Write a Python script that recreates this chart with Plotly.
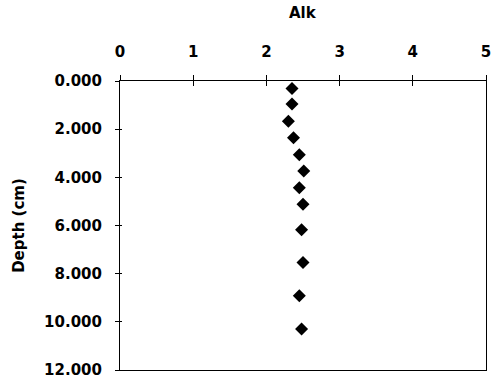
import plotly.graph_objects as go

# Alkalinity profile with depth
alk = [2.35, 2.35, 2.30, 2.37, 2.45, 2.51, 2.45, 2.50, 2.48, 2.50, 2.45, 2.48]
depth = [0.31, 0.95, 1.67, 2.36, 3.06, 3.74, 4.43, 5.12, 6.18, 7.54, 8.92, 10.30]

x_ticks = [0, 1, 2, 3, 4, 5]
y_ticks = [0, 2, 4, 6, 8, 10, 12]
y_ticktext = ["0.000", "2.000", "4.000", "6.000", "8.000", "10.000", "12.000"]

font_main = dict(family="DejaVu Sans", size=15, color="black", weight="bold")

fig = go.Figure()
fig.add_trace(go.Scatter(
    x=alk, y=depth, mode="markers",
    marker=dict(symbol="diamond", size=10, color="black"),
    showlegend=False, hoverinfo="x+y",
))
# invisible copy on overlay axes that carry the inward half of each tick
fig.add_trace(go.Scatter(
    x=alk, y=depth, mode="markers", xaxis="x2", yaxis="y2",
    marker=dict(opacity=0), showlegend=False, hoverinfo="skip",
))

fig.update_layout(
    width=494, height=382,
    margin=dict(l=120, r=8, t=81, b=12),
    paper_bgcolor="white", plot_bgcolor="white",
    font=font_main,
    xaxis=dict(
        side="top", range=[0, 5], tickvals=x_ticks, automargin=False,
        ticks="outside", ticklen=5, tickwidth=1, tickcolor="black",
        showline=True, linecolor="black", linewidth=1, mirror=True,
        showgrid=False, zeroline=False,
        tickfont=font_main, ticklabelstandoff=12,
    ),
    yaxis=dict(
        range=[12, 0], tickvals=y_ticks, ticktext=y_ticktext, automargin=False,
        ticks="outside", ticklen=4, tickwidth=1, tickcolor="black",
        showline=True, linecolor="black", linewidth=1, mirror=True,
        showgrid=False, zeroline=False,
        tickfont=font_main, ticklabelstandoff=10,
        title=dict(text="Depth (cm)", font=font_main),
    ),
    xaxis2=dict(
        overlaying="x", side="top", range=[0, 5], tickvals=x_ticks, automargin=False,
        ticks="inside", ticklen=5, tickwidth=1, tickcolor="black",
        showticklabels=False, showgrid=False, zeroline=False, showline=False,
    ),
    yaxis2=dict(
        overlaying="y", side="left", range=[12, 0], tickvals=y_ticks, automargin=False,
        ticks="inside", ticklen=2, tickwidth=1, tickcolor="black",
        showticklabels=False, showgrid=False, zeroline=False, showline=False,
    ),
    annotations=[dict(
        text="Alk", xref="paper", yref="paper", x=0.5, y=1.0,
        yshift=68, xanchor="center", yanchor="middle",
        showarrow=False, font=font_main,
    )],
)

fig.write_html("out.html")
